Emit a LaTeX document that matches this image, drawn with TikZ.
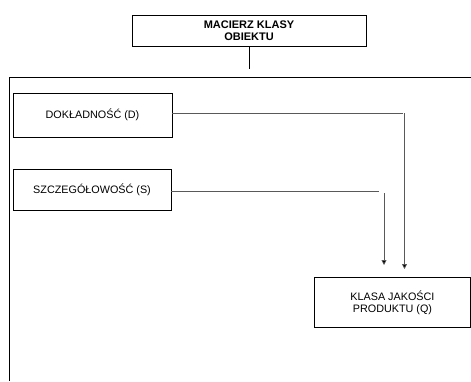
\documentclass[tikz,border=0pt]{standalone}
\usepackage{fontspec}
\setmainfont{Liberation Sans}
\usetikzlibrary{arrows.meta}
\begin{document}
\begin{tikzpicture}[x=1pt,y=-1pt,
  box/.style={draw,line width=0.9pt,inner sep=0pt,font=\fontsize{10.8}{12}\selectfont,align=center},
  conn/.style={draw=black!65,line width=0.7pt},
  arr/.style={conn,-{Triangle[length=5pt,width=5pt,fill=black]}}]
\useasboundingbox (0,0) rectangle (471,381);
% frame
\draw[line width=1pt] (471,77) -- (9.5,77) -- (9.5,381);
% title
\node[box,minimum width=234pt,minimum height=31pt,font=\bfseries\fontsize{11}{12}\selectfont] (T) at (249,30.5) {MACIERZ KLASY\\OBIEKTU};
\coordinate (Tl) at (249,69);
\draw[line width=0.8pt] (T.south) -- (Tl);
% boxes
\node[box,minimum width=159pt,minimum height=44pt] (D) at (92.5,115) {DOKŁADNOŚĆ (D)};
\node[box,minimum width=158pt,minimum height=41pt] (S) at (92,189.5) {SZCZEGÓŁOWOŚĆ (S)};
\node[box,minimum width=156pt,minimum height=50pt,anchor=north west] (Q) at (314,277) {KLASA JAKOŚCI\\PRODUKTU (Q)};
% connectors
\coordinate (Dc) at (403,113);
\coordinate (Dv) at (404.5,113);
\coordinate (Da) at (404.5,269);
\coordinate (Sc) at (379,191);
\coordinate (Sv) at (384,193);
\coordinate (Sa) at (384,265);
\draw[conn] (D.east |- Dc) -- (Dc);
\draw[arr] (Dv) -- (Da);
\draw[conn] (S.east |- Sc) -- (Sc);
\draw[arr] (Sv) -- (Sa);
\end{tikzpicture}
\end{document}
